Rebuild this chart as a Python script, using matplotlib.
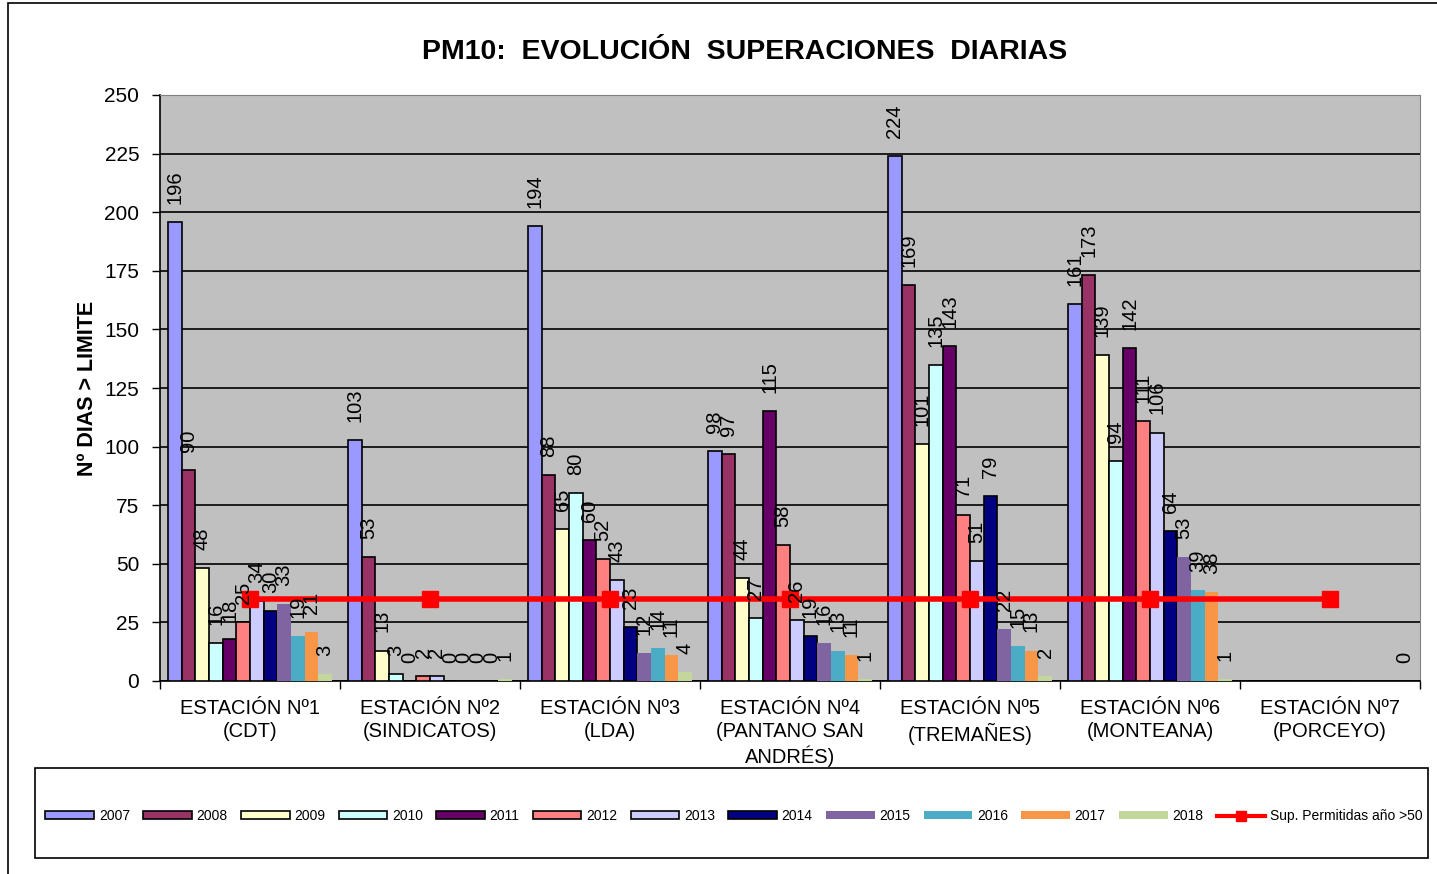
import numpy as np
import matplotlib.pyplot as plt
from matplotlib.patches import Rectangle
from matplotlib.lines import Line2D

plt.rcParams['font.family'] = ['Liberation Sans', 'DejaVu Sans']

# Stations (x categories)
stations = ['ESTACIÓN Nº1\n(CDT)', 'ESTACIÓN Nº2\n(SINDICATOS)', 'ESTACIÓN Nº3\n(LDA)',
            'ESTACIÓN Nº4\n(PANTANO SAN\nANDRÉS)', 'ESTACIÓN Nº5\n(TREMAÑES)',
            'ESTACIÓN Nº6\n(MONTEANA)', 'ESTACIÓN Nº7\n(PORCEYO)']
years = ['2007', '2008', '2009', '2010', '2011', '2012', '2013', '2014',
         '2015', '2016', '2017', '2018']

nan = np.nan
# rows = stations, columns = years
est1 = [196, 90, 48, 16, 18, 25, 34, 30, 33, 19, 21, 3]
est2 = [103, 53, 13, 3, 0, 2, 2, 0, 0, 0, 0, 1]
est3 = [194, 88, 65, 80, 60, 52, 43, 23, 12, 14, 11, 4]
est4 = [98, 97, 44, 27, 115, 58, 26, 19, 16, 13, 11, 1]
est5 = [224, 169, 101, 135, 143, 71, 51, 79, 22, 15, 13, 2]
est6 = [161, 173, 139, 94, 142, 111, 106, 64, 53, 39, 38, 1]
est7 = [nan, nan, nan, nan, nan, nan, nan, nan, nan, nan, nan, 0]
limit = [35, 35, 35, 35, 35, 35, 35]

data = np.array([est1, est2, est3, est4, est5, est6, est7], dtype=float)

colors = ['#9999FF', '#993366', '#FFFFCC', '#CCFFFF', '#660066', '#FF8080',
          '#CCCCFF', '#000080', '#8064A2', '#4BACC6', '#F79646', '#C3D69B']
edged = [True] * 8 + [False] * 4

fig = plt.figure(figsize=(14.37, 8.74), dpi=100)
ax = fig.add_axes([160 / 1437, 1 - 681 / 874, (1420 - 160) / 1437, (681 - 95) / 874])
ax.set_facecolor('#C0C0C0')

x = np.arange(len(stations))
n = len(years)
group_w = 0.91
bw = group_w / n

handles = []
for i, yr in enumerate(years):
    xs = x - group_w / 2 + bw * (i + 0.5)
    vals = data[:, i]
    ec = 'black' if edged[i] else 'none'
    bars = ax.bar(xs, np.nan_to_num(vals), bw, color=colors[i], edgecolor=ec,
                  linewidth=1.2, zorder=3)
    handles.append(bars)
    for xx, v in zip(xs, vals):
        if np.isnan(v):
            continue
        ax.annotate(f'{int(v)}', (xx, v), xytext=(0, 13), textcoords='offset points',
                    rotation=90, ha='center', va='bottom', fontsize=14.5, zorder=5)

line, = ax.plot(x, limit, color='red', lw=4, marker='s', markersize=12, zorder=4)

ax.set_xlim(-0.5, len(stations) - 0.5)
ax.set_ylim(0, 250)
ax.set_yticks(np.arange(0, 251, 25))
ax.tick_params(axis='y', labelsize=15, direction='out', length=6, width=1, pad=9)
ax.set_xticks(x)
ax.set_xticklabels(stations, fontsize=14.5, linespacing=1.25)
ax.tick_params(axis='x', length=0, pad=13)
ax.set_xticks(np.arange(-0.5, len(stations)), minor=True)
ax.tick_params(axis='x', which='minor', length=6, width=1, direction='out')
ax.yaxis.grid(True, color='black', lw=1.2, zorder=1)
ax.set_axisbelow(True)
for s in ['top', 'right']:
    ax.spines[s].set_color('#808080')
for s in ['left', 'bottom']:
    ax.spines[s].set_linewidth(1.2)

ax.set_ylabel('Nº DIAS > LIMITE', fontsize=15.5, fontweight='bold', labelpad=4)

fig.text(745 / 1437, 1 - 52 / 874, 'PM10:  EVOLUCIÓN  SUPERACIONES  DIARIAS',
         ha='center', va='center', fontsize=20.5, fontweight='bold')

# outer frame and legend box
fig.patches.append(Rectangle((8 / 1437, -0.05), 1.1, 1 - 3 / 874 + 0.05,
                             transform=fig.transFigure, fill=False, lw=1.2, ec='black'))
fig.patches.append(Rectangle((35 / 1437, 1 - 858 / 874), (1428 - 35) / 1437, 90 / 874,
                             transform=fig.transFigure, fill=False, lw=1.2, ec='black'))

leg_handles = handles + [Line2D([], [], color='red', lw=3, marker='s', markersize=7)]
leg_labels = years + ['Sup. Permitidas año >50']
fig.legend(leg_handles, leg_labels, loc='center', ncol=13, frameon=False,
           bbox_to_anchor=(734 / 1437, 1 - 816 / 874), fontsize=10,
           handlelength=3.5, handleheight=0.5, handletextpad=0.35,
           columnspacing=0.95, borderpad=0)

fig.savefig('out.png', dpi=100)
